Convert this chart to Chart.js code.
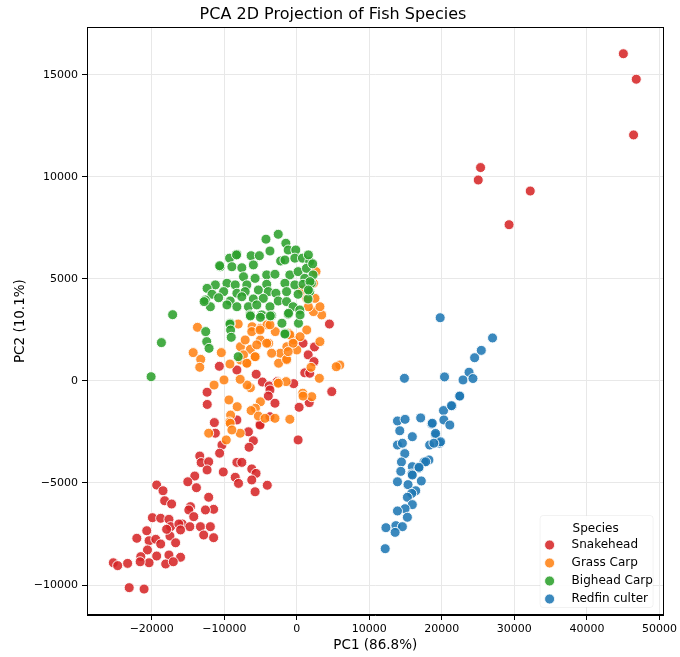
<!DOCTYPE html>
<html lang="en">
<head>
    <meta charset="UTF-8">
    <title>PCA 2D Projection of Fish Species</title>
    <script src="https://cdn.jsdelivr.net/npm/chart.js"></script>
    <style>
        body {
            margin: 0;
            background: #fff;
        }
    </style>
</head>
<body>
    <canvas id="pcaChart" width="680" height="657"></canvas>

    <script>
        // Species names, in legend order
        const species = ['Snakehead', 'Grass Carp', 'Bighead Carp', 'Redfin culter'];

        // Tick values for both axes
        const xTicks = [-20000, -10000, 0, 10000, 20000, 30000, 40000, 50000];
        const yTicks = [-10000, -5000, 0, 5000, 10000, 15000];

        // PCA scores [PC1, PC2] per species
        const snakehead = [
            [45030, 16040], [46810, 14790], [46440, 12060], [25340, 10460], [25020, 9850], [32190, 9310], [29270, 7660],
            [4500, 2790], [860, 1850], [2440, 1670], [1570, 1280], [2370, 950], [1100, 400], [1780, 380],
            [-10680, 720], [-8260, 540], [-5600, 330], [-4750, -50], [-3800, -240], [-2700, -30], [-430, -130],
            [-3700, -440], [-3930, -740], [-3010, -1090], [-12370, -550], [-12350, -1150], [320, -1290],
            [1710, -1060], [4820, -520], [-8260, -1910], [-5070, -2110], [-3700, -1750],
            [-11370, -2040], [-11230, -2560], [-10320, -3140], [-6670, -2490], [-5990, -2930], [-6580, -3250],
            [-5070, -2160], [180, -2890], [-10640, -3540], [-13380, -3680], [-13190, -4000], [-12150, -3960],
            [-12370, -4360], [-8260, -3990], [-7580, -3990], [-10140, -4460], [-6210, -4310], [-5620, -4530],
            [-8490, -4720], [-8040, -5020], [-6210, -4850], [-5750, -5430], [-4070, -5110], [-14070, -4660],
            [-15030, -4940], [-13840, -5230], [-19320, -5100], [-18450, -5380], [-18220, -5870], [-17260, -6030],
            [-14660, -6160], [-14890, -6320], [-12150, -5700], [-11470, -6290], [-12600, -6320], [-19910, -6700],
            [-18770, -6730], [-17630, -6780], [-15800, -7010], [-14210, -6650], [-14750, -7140], [-17400, -7140],
            [-16260, -7010], [-13290, -7140], [-11920, -7140], [-12840, -7550], [-11470, -7680], [-20690, -7340],
            [-22060, -7710], [-20370, -7830], [-19450, -7760], [-17490, -7600], [-17950, -7270], [-16030, -7300],
            [-16710, -7930], [-18770, -7990], [-20590, -8280], [-21510, -8610], [-19320, -8580], [-17630, -8530],
            [-16030, -8640], [-20370, -8910], [-21600, -8860], [-18080, -8970], [-17030, -8860], [-23330, -8940],
            [-25300, -8910], [-24700, -9050], [-23110, -10130], [-21060, -10200]
        ];

        const grassCarp = [
            [-13700, 2630], [-14290, 1390], [-13250, 1060], [-13380, 670], [-10410, 1390], [-9220, 830],
            [-10040, 50], [-11410, -200], [-8080, 2790], [-7770, 1680], [-6400, 1550], [-6850, 870],
            [-5710, 1190], [-5020, 2010], [-3880, 1850], [-2970, 2420], [-1370, 1680], [-450, 2010],
            [0, 1520], [-2280, 1360], [-1370, 1030], [-2510, 870], [-6160, 2660], [-5020, 2580],
            [-4110, 2750], [1370, 2500], [3190, 1930], [3430, 3240], [2290, 3400], [3190, 3640],
            [2510, 4050], [1370, 4050], [2290, 4790], [2650, 5360], [690, 4460], [5930, 780],
            [3110, 130], [1960, 670], [820, -600], [2060, -770], [-2510, -80], [-1470, -30],
            [-6400, -330], [-9360, -930], [-8220, -1260], [-5020, -1020], [-5710, -1340], [-9130, -1670],
            [-6850, -200], [-7770, 1030], [-1140, 2340], [450, 2170], [1600, 3640], [-9270, -2010],
            [-6300, -1450], [-5300, -1720], [-4380, -1830], [-3010, -1830], [-960, -1880], [860, -740],
            [5440, 700], [-7810, 80], [-2560, -110], [-1410, 1060], [-5520, 1770], [-4150, 1850],
            [-7120, 2010], [-6210, 2420], [-5070, 2500], [-3700, 2750], [-960, 2260], [-510, 1850],
            [-1190, 1440], [-3470, 1360], [-7350, 1280], [-5750, 1190], [-6890, 870], [-9180, -2070],
            [-12150, -2560], [-9730, -2890], [-7810, -2560], [-8950, -2400]
        ];

        const bigheadCarp = [
            [-2560, 7190], [-4250, 6950], [-1510, 6750], [-3700, 6370], [-1190, 6420], [-140, 6420],
            [-8260, 6210], [-9270, 6020], [-6300, 6140], [-5160, 6140], [-2230, 5880], [-1640, 5930],
            [-270, 6020], [780, 6020], [1780, 5850], [-10550, 5600], [-8950, 5600], [-7580, 5550],
            [-5990, 5690], [-4150, 5200], [-3010, 5230], [-960, 5200], [180, 5360], [1330, 5520],
            [2240, 5200], [1100, 5030], [-7350, 5110], [-5750, 5030], [-11230, 4710], [-9630, 4790],
            [-8490, 4710], [-6890, 4710], [-4150, 4740], [-1640, 4790], [-270, 4710], [860, 4740],
            [2010, 4790], [-12370, 4540], [-11690, 4250], [-10090, 4380], [-8260, 4300], [-7120, 4380],
            [-5300, 4460], [-3930, 4380], [-2880, 4300], [-1410, 4380], [1780, 4380], [-12600, 3970],
            [-10780, 4080], [-9180, 3920], [-7580, 4130], [-5990, 4020], [-4620, 4050], [-2560, 3920],
            [-1410, 3890], [180, 4250], [1550, 4020], [-11920, 3640], [-9630, 3730], [-8260, 3640],
            [-6670, 3640], [-5520, 3730], [-3700, 3640], [-510, 3640], [410, 3480], [-6440, 3240],
            [-4840, 3240], [-3470, 3200], [-1190, 3270], [-9180, 2830], [-10640, 5650], [-8310, 6180],
            [-17120, 3250], [-18670, 1880], [-20090, 210], [-12780, 3890], [-12560, 2420], [-12420, 1930],
            [-12100, 1600], [-9220, 2790], [-9130, 2500], [-9040, 2140], [-8080, 1190], [-6400, 3190],
            [-5020, 3120], [-3650, 3190], [-2050, 2830], [-1600, 2340], [230, 2830], [450, 3240],
            [-1140, 3320], [1600, 6180], [2190, 5740], [1820, 4870], [1600, 4460], [-1640, 2300]
        ];

        const redfinCulter = [
            [19770, 3100], [26990, 2110], [25440, 1500], [24520, 1140], [23750, 430], [22920, 50],
            [24290, 120], [14840, 130], [20370, 200], [22420, -750], [21420, -1230], [20230, -1450],
            [13880, -1960], [14930, -1880], [17080, -1810], [18590, -2110], [20280, -1910], [21100, -2160],
            [14200, -2440], [15930, -2730], [19130, -2650], [13880, -3140], [14560, -3050], [18320, -3140],
            [19690, -3050], [14890, -3560], [18220, -3870], [17540, -3970], [14430, -3970], [15930, -4200],
            [16850, -4280], [14340, -4430], [15850, -4560], [13880, -4940], [17170, -4900], [15340, -5080],
            [16400, -5380], [15850, -5510], [15250, -5700], [15930, -6060], [14930, -6260], [13880, -6370],
            [15250, -6680], [13660, -7090], [14560, -7140], [12290, -7190], [13560, -7420], [12190, -8220],
            [22470, -740], [21330, -1210], [18680, -2070], [19130, -2570], [19820, -2980], [18900, -3050],
            [17770, -3960], [16850, -4230], [15930, -4610]
        ];

        const seriesData = [snakehead, grassCarp, bigheadCarp, redfinCulter];
        const fillColors = ['rgba(214,39,40,0.88)', 'rgba(255,127,14,0.85)', 'rgba(44,160,44,0.88)', 'rgba(31,119,180,0.88)'];
        const drawOrder = [4, 3, 2, 1]; // lower order ends up on top

        const FONT = 'DejaVu Sans';

        // Format tick numbers the matplotlib way (unicode minus)
        function formatTick(v) {
            return v < 0 ? '\u2212' + Math.abs(v) : String(v);
        }

        // Full black frame around the plot area
        const frameBox = {
            id: 'frameBox',
            afterDatasetsDraw(chart) {
                const a = chart.chartArea;
                const ctx = chart.ctx;
                ctx.save();
                ctx.strokeStyle = '#000';
                ctx.lineWidth = 1;
                ctx.strokeRect(Math.round(a.left) + 0.5, Math.round(a.top) + 0.5,
                    Math.round(a.right - a.left) - 1, Math.round(a.bottom - a.top) - 1);
                ctx.restore();
            }
        };

        // Legend box in the lower right corner of the plot
        const speciesLegend = {
            id: 'speciesLegend',
            afterDraw(chart) {
                const ctx = chart.ctx;
                const a = chart.chartArea;
                const boxW = 113, boxH = 92;
                const x0 = a.right - 11 - boxW;
                const y0 = a.bottom - 8 - boxH;
                ctx.save();
                ctx.fillStyle = 'rgba(255,255,255,0.9)';
                ctx.strokeStyle = 'rgba(0,0,0,0.05)';
                ctx.lineWidth = 1;
                ctx.beginPath();
                ctx.roundRect(x0 + 0.5, y0 + 0.5, boxW, boxH, 3);
                ctx.fill();
                ctx.stroke();

                ctx.fillStyle = '#000';
                ctx.font = '12px "' + FONT + '"';
                ctx.textBaseline = 'middle';
                ctx.textAlign = 'center';
                ctx.fillText('Species', x0 + 56, y0 + 14);

                ctx.textAlign = 'left';
                species.forEach((name, i) => {
                    const y = y0 + 30 + i * 18;
                    ctx.beginPath();
                    ctx.arc(x0 + 10, y, 5, 0, Math.PI * 2);
                    ctx.fillStyle = fillColors[i];
                    ctx.fill();
                    ctx.strokeStyle = '#fff';
                    ctx.lineWidth = 0.8;
                    ctx.stroke();
                    ctx.fillStyle = '#000';
                    ctx.fillText(name, x0 + 32, y);
                });
                ctx.restore();
            }
        };

        function buildDatasets() {
            return species.map((name, i) => ({
                label: name,
                data: seriesData[i].map(p => ({ x: p[0], y: p[1] })),
                backgroundColor: fillColors[i],
                borderColor: '#fff',
                borderWidth: 0.9,
                pointRadius: 5,
                pointHoverRadius: 5,
                order: drawOrder[i]
            }));
        }

        const ctx = document.getElementById('pcaChart').getContext('2d');
        new Chart(ctx, {
            type: 'scatter',
            data: { datasets: buildDatasets() },
            options: {
                responsive: false,
                devicePixelRatio: 1,
                animation: false,
                layout: { padding: { left: 0, right: 14, top: 0, bottom: 0 } },
                plugins: {
                    legend: { display: false },
                    tooltip: { enabled: false },
                    title: {
                        display: true,
                        text: 'PCA 2D Projection of Fish Species',
                        color: '#000',
                        font: { family: FONT, size: 16, weight: 'normal' },
                        padding: { top: 5, bottom: 3 }
                    }
                },
                scales: {
                    x: {
                        type: 'linear',
                        min: -28930,
                        max: 50580,
                        afterBuildTicks: scale => { scale.ticks = xTicks.map(v => ({ value: v })); },
                        afterFit: scale => { scale.height = 42; },
                        ticks: {
                            callback: formatTick,
                            color: '#000',
                            font: { family: FONT, size: 11 },
                            padding: 3,
                            maxRotation: 0
                        },
                        grid: { color: '#e8e8e8', tickColor: '#000', tickLength: 5 },
                        border: { color: '#000' },
                        title: {
                            display: true,
                            text: 'PC1 (86.8%)',
                            color: '#000',
                            font: { family: FONT, size: 13.5 },
                            padding: { top: 0, bottom: 3 }
                        }
                    },
                    y: {
                        type: 'linear',
                        min: -11470,
                        max: 17340,
                        afterBuildTicks: scale => { scale.ticks = yTicks.map(v => ({ value: v })); },
                        afterFit: scale => { scale.width = 87; },
                        ticks: {
                            callback: formatTick,
                            color: '#000',
                            font: { family: FONT, size: 11 },
                            padding: 4
                        },
                        grid: { color: '#e8e8e8', tickColor: '#000', tickLength: 5 },
                        border: { color: '#000' },
                        title: {
                            display: true,
                            text: 'PC2 (10.1%)',
                            color: '#000',
                            font: { family: FONT, size: 13.5 },
                            padding: { top: 12, bottom: 0 }
                        }
                    }
                }
            },
            plugins: [frameBox, speciesLegend]
        });
    </script>
</body>
</html>
